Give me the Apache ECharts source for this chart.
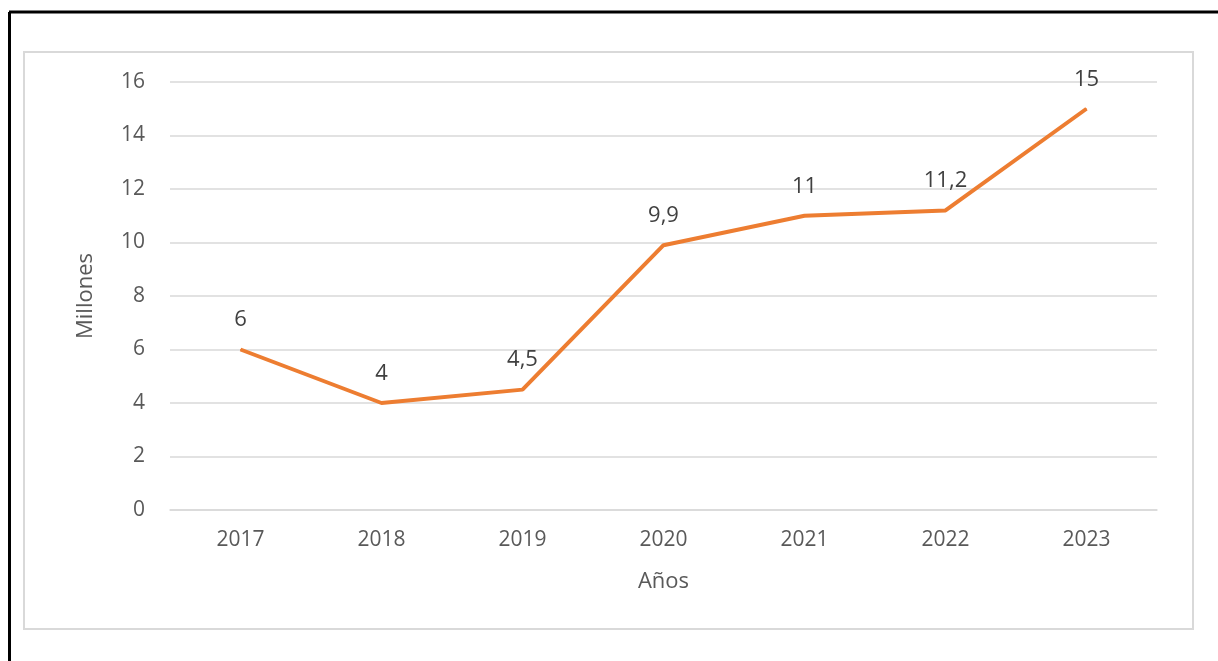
<!DOCTYPE html>
<html>
<head>
<meta charset="utf-8">
<script src="https://cdn.jsdelivr.net/npm/echarts@6/dist/echarts.min.js"></script>
<style>
html,body{margin:0;padding:0;background:#fff;}
#c{width:1218px;height:661px;}
</style>
</head>
<body>
<div id="c"></div>
<script>
const years = ['2017','2018','2019','2020','2021','2022','2023'];
const values = [6, 4, 4.5, 9.9, 11, 11.2, 15];
const yTicks = {min: 0, max: 16, interval: 2};

const chart = echarts.init(document.getElementById('c'));
const font = '"Open Sans", "Noto Sans", sans-serif';
chart.setOption({
  animation: false,
  backgroundColor: '#fff',
  graphic: [
    {type: 'line', shape: {x1: 9, y1: 12, x2: 1218, y2: 12}, style: {stroke: '#000', lineWidth: 3}},
    {type: 'line', shape: {x1: 9.5, y1: 12, x2: 9.5, y2: 661}, style: {stroke: '#000', lineWidth: 3}},
    {type: 'rect', shape: {x: 24, y: 52, width: 1169, height: 577}, style: {fill: 'none', stroke: '#d9d9d9', lineWidth: 2}}
  ],
  grid: {left: 170, right: 61, top: 82, bottom: 151},
  xAxis: {
    type: 'category',
    data: years,
    boundaryGap: true,
    name: 'Años',
    nameLocation: 'middle',
    nameGap: 61,
    nameTextStyle: {color: '#595959', fontSize: 22, fontFamily: font},
    axisLine: {lineStyle: {color: '#d9d9d9', width: 1.5}},
    axisTick: {show: false},
    axisLabel: {color: '#595959', fontSize: 21, fontFamily: font, margin: 20}
  },
  yAxis: {
    type: 'value',
    min: yTicks.min, max: yTicks.max, interval: yTicks.interval,
    name: 'Millones',
    nameLocation: 'middle',
    nameGap: 73,
    nameTextStyle: {color: '#595959', fontSize: 22, fontFamily: font},
    axisLine: {show: false},
    axisTick: {show: false},
    splitLine: {lineStyle: {color: '#d9d9d9', width: 1.5}},
    axisLabel: {color: '#595959', fontSize: 21, fontFamily: font, margin: 25,
      formatter: v => String(v)}
  },
  series: [{
    type: 'line',
    data: values,
    symbol: 'circle',
    symbolSize: 1,
    showSymbol: true,
    lineStyle: {color: '#ED7D31', width: 4},
    itemStyle: {color: '#ED7D31'},
    label: {
      show: true, position: 'top', distance: 18,
      color: '#404040', fontSize: 22, fontFamily: font,
      formatter: p => String(p.value).replace('.', ',')
    }
  }]
});
</script>
</body>
</html>
